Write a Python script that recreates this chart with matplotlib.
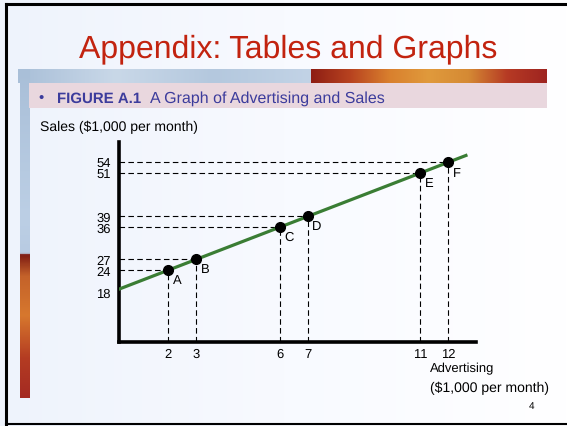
import numpy as np
import matplotlib
matplotlib.use("Agg")
import matplotlib.pyplot as plt
from matplotlib.colors import LinearSegmentedColormap
from matplotlib.patches import Rectangle

plt.rcParams['font.family'] = ['Liberation Sans', 'DejaVu Sans']
plt.rcParams['text.hinting'] = 'no_hinting'
plt.rcParams['text.hinting_factor'] = 1

# data
advertising = [2, 3, 6, 7, 11, 12]
sales = [24, 27, 36, 39, 51, 54]
point_labels = ['A', 'B', 'C', 'D', 'E', 'F']
intercept = 18
slope = 3
line_x = [0, 12.65]

W, H = 567, 427
fig = plt.figure(figsize=(W / 100, H / 100), dpi=100)

# ---- slide background (pixel coordinates) ----
bg = fig.add_axes([0, 0, 1, 1])
bg.set_xlim(0, W)
bg.set_ylim(H, 0)
bg.axis('off')

grad = np.linspace(0, 1, 256).reshape(1, -1)
bg_cmap = LinearSegmentedColormap.from_list('bg', ['#eef3fc', '#f8faff', '#ffffff'])
bg.imshow(grad, cmap=bg_cmap, extent=[0, W, H, 0], aspect='auto', zorder=0)

# banner strip: blue part and warm part
blue_cmap = LinearSegmentedColormap.from_list('blue', ['#a9bfd8', '#c9d8e8', '#b4c8de', '#c2d3e6'])
warm_cmap = LinearSegmentedColormap.from_list(
    'warm', ['#8e1e14', '#b84320', '#d9802e', '#e09a3c', '#d58a34', '#b63a24', '#9e2420'])
bg.imshow(grad, cmap=blue_cmap, extent=[18, 311, 84, 70], aspect='auto', zorder=1)
bg.imshow(grad, cmap=warm_cmap, extent=[311, 547, 84, 70], aspect='auto', zorder=1)

# left vertical bar
vgrad = np.linspace(0, 1, 256).reshape(-1, 1)
bar_cmap = LinearSegmentedColormap.from_list(
    'bar', [(0, '#a9bfd8'), (0.45, '#bccfe5'), (0.56, '#b8cbe2'),
            (0.565, '#7e1c14'), (0.63, '#c4622a'), (0.75, '#d7782e'),
            (0.88, '#b43c22'), (1.0, '#a42a22')])
bg.imshow(vgrad, cmap=bar_cmap, extent=[20, 30, 399, 70], aspect='auto', zorder=1)

# pink heading band
bg.add_patch(Rectangle((29, 84), 518, 25, facecolor='#e9d7de', edgecolor='none', zorder=2))

# slide border
bg.plot([6, 566], [5, 5], color='black', lw=2.2, zorder=3)
bg.plot([6, 6], [5, 425], color='black', lw=2.2, zorder=3)
bg.plot([6, 566], [425, 425], color='black', lw=1.5, zorder=3)

# texts
bg.text(288, 57, 'Appendix: Tables and Graphs', color='#c2230f', fontsize=22.7,
        ha='center', va='baseline', zorder=4)
bg.text(41, 102, '•', color='#3c3c9c', fontsize=11, ha='center', va='baseline', zorder=4)
bg.text(57, 102.5, 'FIGURE A.1', color='#3c3c9c', fontsize=10.8, fontweight='bold',
        ha='left', va='baseline', zorder=4)
bg.text(150, 102.5, 'A Graph of Advertising and Sales', color='#3c3c9c', fontsize=11.5,
        ha='left', va='baseline', zorder=4)
bg.text(40, 127, 'Sales ($1,000 per month)', color='black', fontsize=9.9,
        ha='left', va='center', zorder=4)
bg.text(430, 369, 'Advertising', color='black', fontsize=9.7, ha='left', va='center', zorder=4)
bg.text(430, 388, '($1,000 per month)', color='black', fontsize=10, ha='left', va='center', zorder=4)
bg.text(532, 406, '4', color='black', fontsize=7.5, ha='center', va='center', zorder=4)

# ---- the chart ----
ax = fig.add_axes([119 / W, 1 - 343 / H, (476 - 119) / W, (343 - 143) / H])
ax.patch.set_alpha(0)
x0, x1 = 0.24, 13.01
y0, y1 = 4.0, 59.7
ax.set_xlim(x0, x1)
ax.set_ylim(y0, y1)

for s in ['top', 'right']:
    ax.spines[s].set_visible(False)
for s in ['left', 'bottom']:
    ax.spines[s].set_linewidth(2.6)
    ax.spines[s].set_color('black')

# dashed guides
ax.hlines(sales, x0, advertising, colors='black', linestyles=(0, (5, 3)), lw=0.8, zorder=2)
ax.vlines(advertising, y0, sales, colors='black', linestyles=(0, (5, 3)), lw=0.8, zorder=2)

lx = np.array(line_x)
ax.plot(lx, intercept + slope * lx, color='#3a7d34', lw=2.3, zorder=3)
ax.plot(advertising, sales, 'o', color='black', markersize=7, zorder=4)

for xv, yv, lab in zip(advertising, sales, point_labels):
    ax.annotate(lab, (xv, yv), xytext=(6.5, -7), textcoords='offset points',
                ha='center', va='center', fontsize=9.5)

ax.set_xticks(advertising)
ax.set_xticklabels([str(v) for v in advertising])
ax.set_yticks([intercept] + sales)
ax.set_yticklabels([str(v) for v in [intercept] + sales])
ax.tick_params(length=0, labelsize=9)
ax.tick_params(axis='y', pad=6)
ax.tick_params(axis='x', pad=4)

fig.savefig('out.png', dpi=100)
